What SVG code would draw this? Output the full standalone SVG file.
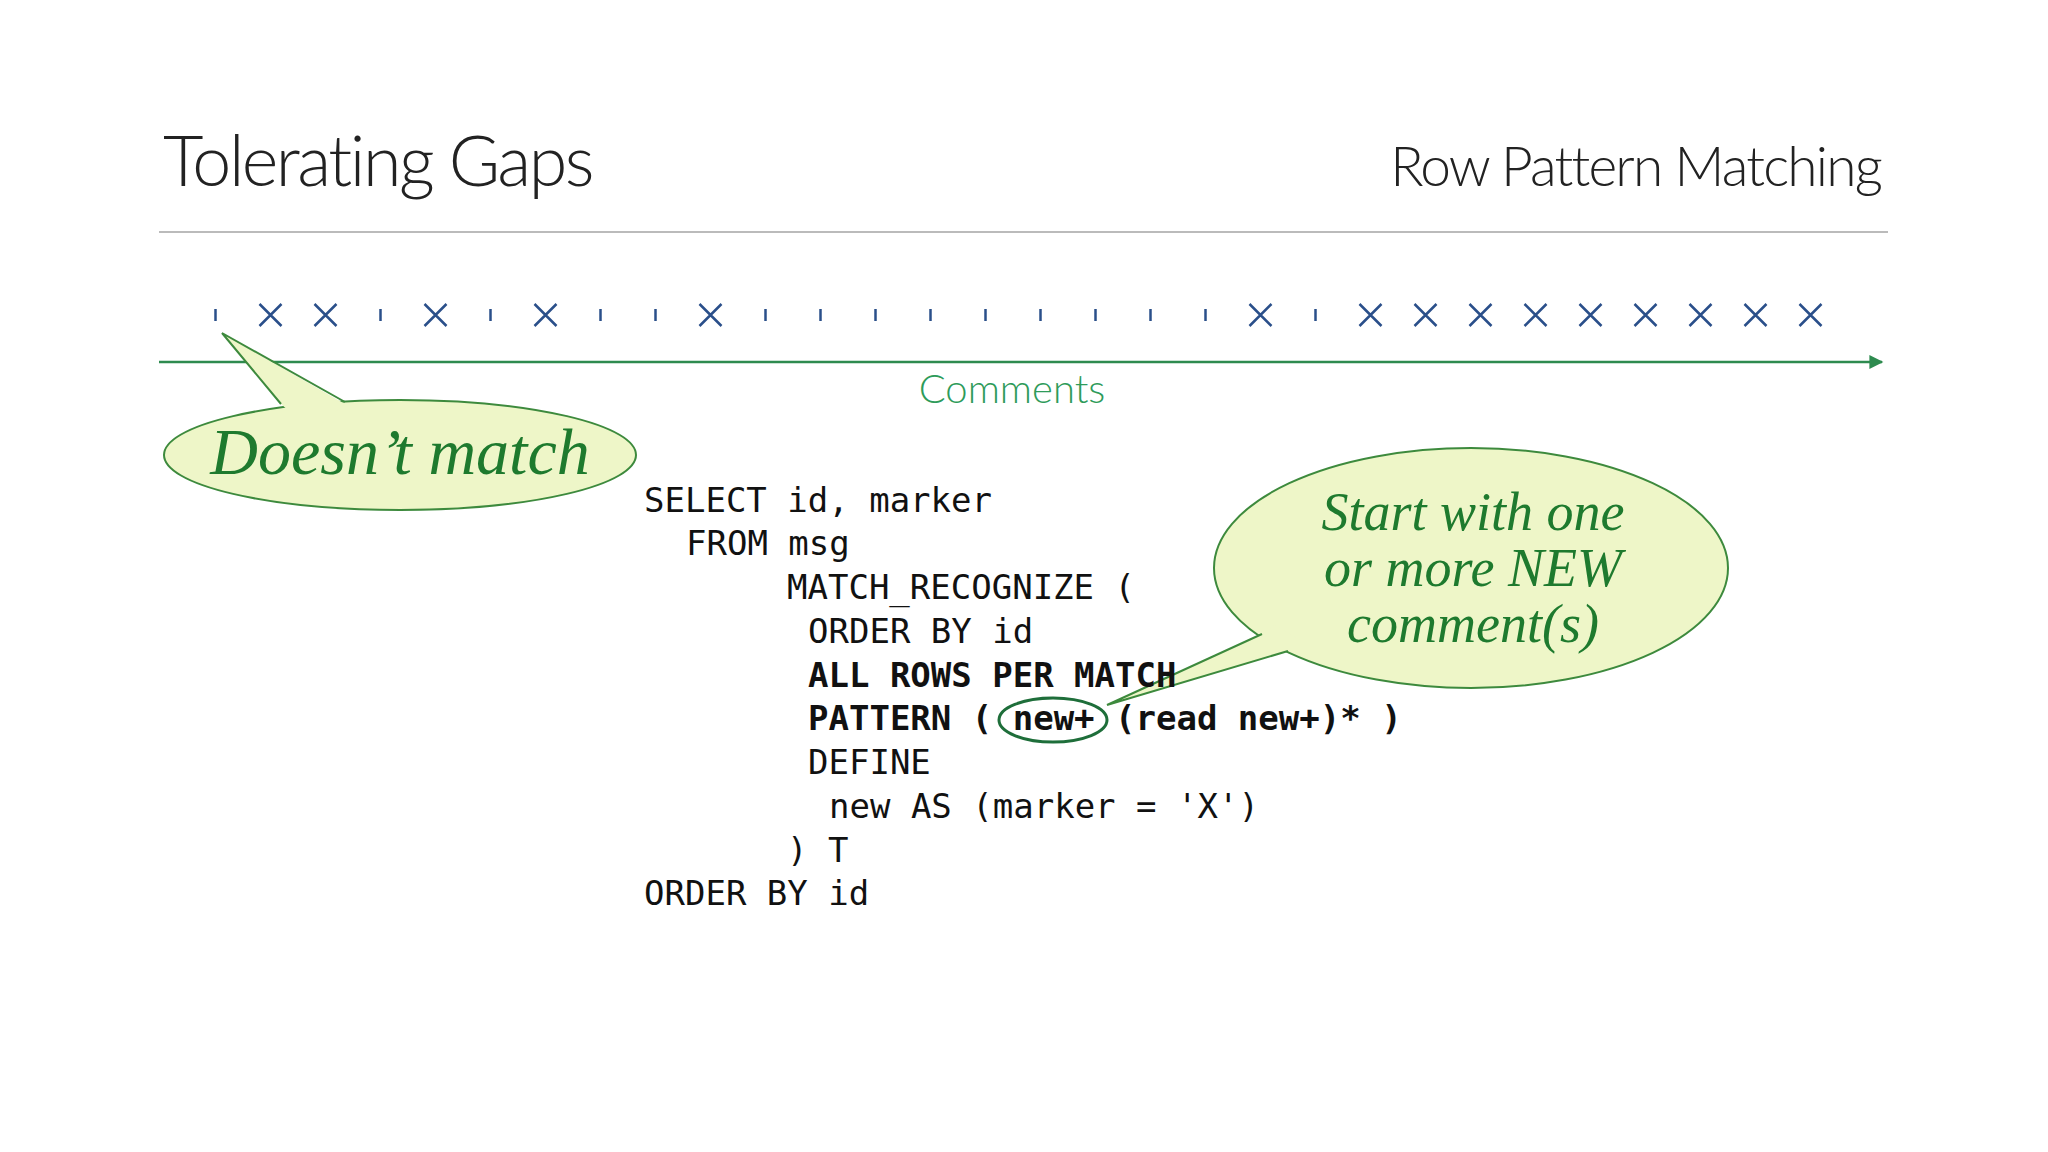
<svg xmlns="http://www.w3.org/2000/svg" width="2048" height="1152" viewBox="0 0 2048 1152">
<defs>
<style>
.t{font-family:Lato,"Liberation Sans",sans-serif;font-weight:300;fill:#222}
.code{font-family:"DejaVu Sans Mono","Liberation Mono",monospace;font-size:34px;fill:#111}
.b{font-weight:bold}
.hand{font-family:"Liberation Serif",serif;font-style:italic;fill:#1e7a2e;text-anchor:middle}
.bub{fill:#eef6c8;stroke:#3d8a3d;stroke-width:2}
.tail{fill:#eef6c8;stroke:none}
.side{fill:none;stroke:#3d8a3d;stroke-width:2}
.x{stroke:#2a4f8a;stroke-width:2.5;fill:none}
</style>
<marker id="ah" viewBox="0 0 10 10" refX="9" refY="5" markerWidth="20" markerHeight="14" markerUnits="userSpaceOnUse" orient="auto"><path d="M0,0L10,5L0,10z" fill="#2e8b4f"/></marker>
<g id="X"><path class="x" d="M-11,-11L11,11M11,-11L-11,11"/></g>
<g id="tk"><path class="x" d="M0,-6V6" stroke-width="1.5"/></g>
</defs>
<rect width="2048" height="1152" fill="#fff"/>
<g id="title">
<text class="t" x="163" y="186" font-size="70" letter-spacing="-2.5">Tolerating Gaps</text>
<text class="t" x="1881" y="186" font-size="55" letter-spacing="-1.8" text-anchor="end">Row Pattern Matching</text>
<line x1="159" y1="232" x2="1888" y2="232" stroke="#bbb" stroke-width="2"/>
</g>
<g id="markers">
<use href="#tk" x="215.5" y="315"/><use href="#X" x="270.5" y="315"/><use href="#X" x="325.5" y="315"/><use href="#tk" x="380.5" y="315"/><use href="#X" x="435.5" y="315"/><use href="#tk" x="490.5" y="315"/><use href="#X" x="545.5" y="315"/><use href="#tk" x="600.5" y="315"/><use href="#tk" x="655.5" y="315"/><use href="#X" x="710.5" y="315"/><use href="#tk" x="765.5" y="315"/><use href="#tk" x="820.5" y="315"/><use href="#tk" x="875.5" y="315"/><use href="#tk" x="930.5" y="315"/><use href="#tk" x="985.5" y="315"/><use href="#tk" x="1040.5" y="315"/><use href="#tk" x="1095.5" y="315"/><use href="#tk" x="1150.5" y="315"/><use href="#tk" x="1205.5" y="315"/><use href="#X" x="1260.5" y="315"/><use href="#tk" x="1315.5" y="315"/><use href="#X" x="1370.5" y="315"/><use href="#X" x="1425.5" y="315"/><use href="#X" x="1480.5" y="315"/><use href="#X" x="1535.5" y="315"/><use href="#X" x="1590.5" y="315"/><use href="#X" x="1645.5" y="315"/><use href="#X" x="1700.5" y="315"/><use href="#X" x="1755.5" y="315"/><use href="#X" x="1810.5" y="315"/>
</g>
<g id="connectors">
<line x1="159" y1="362" x2="1882" y2="362" stroke="#2e8b4f" stroke-width="2.5" marker-end="url(#ah)"/>
<ellipse cx="1053" cy="720" rx="54" ry="22" fill="none" stroke="#1e6e3a" stroke-width="3"/>
</g>
<text x="1012" y="403" font-family="Lato,'Liberation Sans',sans-serif" font-weight="300" font-size="40" fill="#2e9b5a" text-anchor="middle">Comments</text>
<g id="bubble1">
<ellipse class="bub" cx="400" cy="455" rx="236" ry="55"/>
<path class="tail" d="M222,333L345,404L335,412L290,412L281,404Z"/>
<path class="side" d="M281,404L222,333L345,402"/>
<text class="hand" x="400" y="474" font-size="66">Doesn’t match</text>
</g>
<g id="bubble2">
<ellipse class="bub" cx="1471" cy="568" rx="257" ry="120"/>
<path class="tail" d="M1107,705L1262,634L1275,625L1300,640L1290,650Z"/>
<path class="side" d="M1262,634L1107,705L1288,651"/>
<text class="hand" x="1473" y="530" font-size="54">Start with one</text>
<text class="hand" x="1473" y="586" font-size="54">or more NEW</text>
<text class="hand" x="1473" y="642" font-size="54">comment(s)</text>
</g>
<g id="code" xml:space="preserve">
<text class="code" x="644" y="512">SELECT id, marker</text>
<text class="code" x="686" y="555">FROM msg</text>
<text class="code" x="787" y="599">MATCH_RECOGNIZE (</text>
<text class="code" x="808" y="643">ORDER BY id</text>
<text class="code b" x="808" y="687">ALL ROWS PER MATCH</text>
<text class="code b" x="808" y="730">PATTERN ( new+ (read new+)* )</text>
<text class="code" x="808" y="774">DEFINE</text>
<text class="code" x="829" y="818">new AS (marker = 'X')</text>
<text class="code" x="787" y="862">) T</text>
<text class="code" x="644" y="905">ORDER BY id</text>
</g>
</svg>
